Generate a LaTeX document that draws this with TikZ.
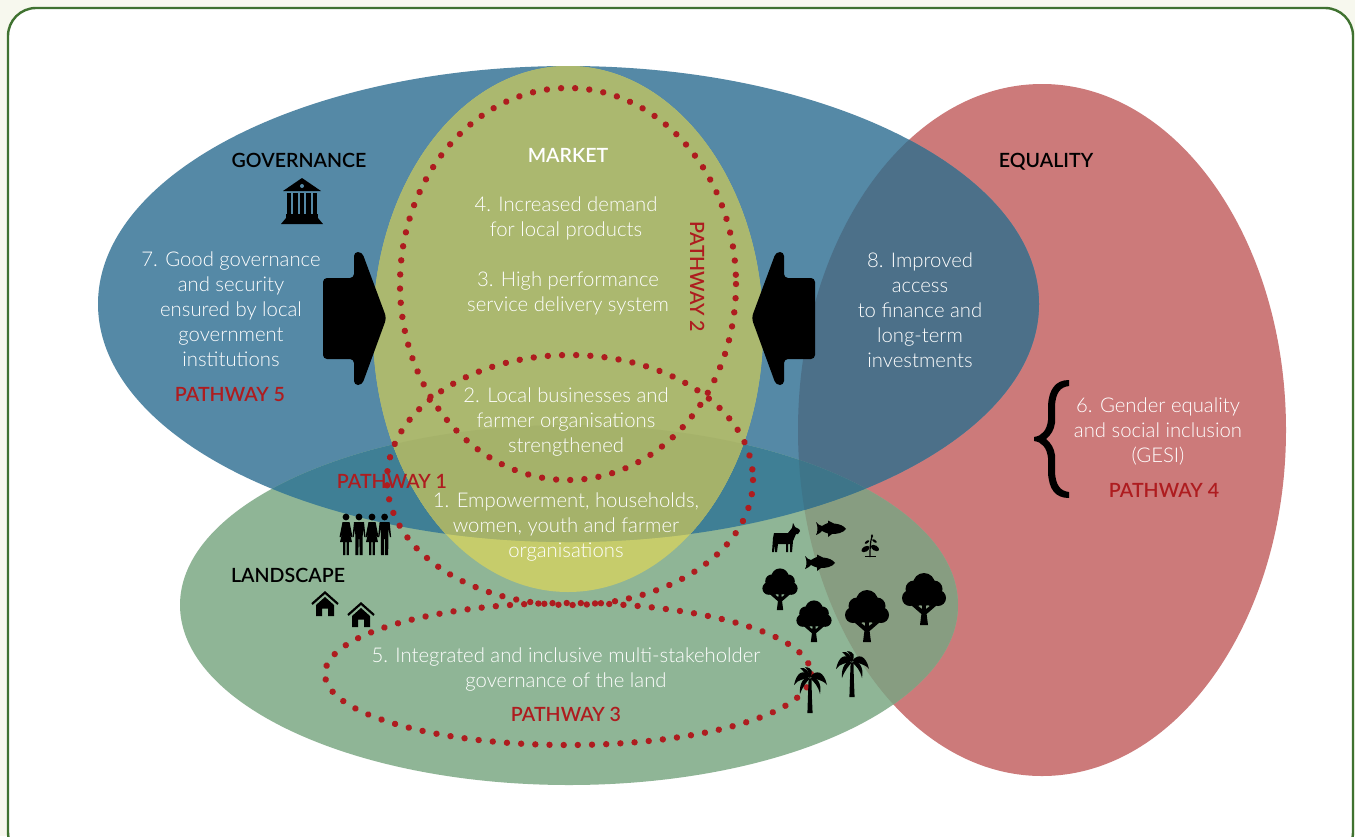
\documentclass[tikz,border=0pt]{standalone}
\usepackage{fontspec}
\setmainfont{Lato}[UprightFont=* Light,BoldFont=* Semibold]
\usetikzlibrary{calc,decorations.markings}
\definecolor{pageBg}{HTML}{F7F8EE}
\definecolor{cardLine}{HTML}{3F7230}
\definecolor{cEq}{HTML}{CC7A7A}
\definecolor{cGov}{HTML}{5589A6}
\definecolor{cLand}{HTML}{8FB596}
\definecolor{cGovEq}{HTML}{4C7089}
\definecolor{cLandEq}{HTML}{879D81}
\definecolor{cGovLand}{HTML}{3F7F95}
\definecolor{cTriple}{HTML}{3E7589}
\definecolor{cMktL}{HTML}{C6CC6B}
\definecolor{cMktG}{HTML}{ABB86F}
\definecolor{cMktGL}{HTML}{A5B26A}
\definecolor{pathRed}{HTML}{AE1C1F}
\def\Gpath{(568.5,304) ellipse [x radius=470.5,y radius=238]}
\def\Mpath{(568,329) ellipse [x radius=195,y radius=263]}
\def\Epath{(1042,430) ellipse [x radius=244,y radius=346]}
\def\Lpath{(569,605) ellipse [x radius=389,y radius=180]}
\tikzset{
  x=1pt,y=-1pt,
  body/.style={font=\fontsize{20.3}{25}\selectfont,text=white,align=center,inner sep=0pt,yshift=-1.5pt},
  head/.style={font=\fontsize{19.6}{22}\bfseries\selectfont,inner sep=0pt,text height=14pt,text depth=0pt},
  way/.style={font=\fontsize{19.6}{22}\bfseries\selectfont,text=pathRed,inner sep=0pt,text height=14pt,text depth=0pt},
  dots/.style={decoration={markings,mark=between positions 0 and 1 step 14.2pt with {\fill[pathRed] (0,0) circle (3.2pt);}},decorate},
  pics/tree/.style={code={
    \fill (-4,0) -- (4,0) -- (2.6,-11) -- (13,-20) -- (11,-23) -- (2,-16) -- (1.5,-25) -- (-1.5,-25) -- (-2,-16) -- (-11,-23) -- (-13,-20) -- (-2.6,-11) -- cycle;
    \fill (0,-41) circle (11) (-10,-36) circle (8.5) (10,-36) circle (8.5) (-14,-27) circle (8) (14,-27) circle (8) (0,-31) circle (12) (-6,-24) circle (5) (6,-24) circle (5);
  }},
  pics/palm/.style={code={
    \fill (-2.6,0) -- (2.6,0) -- (1.8,-18) -- (1.6,-34) -- (-1.4,-34) -- (-2,-18) -- cycle;
    \fill (0,-36) .. controls (-6,-44) and (-13,-42) .. (-16,-28) .. controls (-12,-34) and (-6,-33) .. cycle;
    \fill (0,-35) .. controls (-6,-37) and (-11,-30) .. (-10,-19) .. controls (-7,-27) and (-4,-30) .. cycle;
    \fill (0,-36) .. controls (6,-44) and (14,-42) .. (17,-28) .. controls (12,-34) and (6,-33) .. cycle;
    \fill (0,-35) .. controls (7,-37) and (12,-30) .. (10,-19) .. controls (8,-27) and (5,-30) .. cycle;
    \fill (0,-35) .. controls (-1,-42) and (-4,-46) .. (-10,-45) .. controls (-6,-42) and (-5,-38) .. cycle;
    \fill (0,-35) .. controls (3,-41) and (3,-45) .. (-5,-46) .. controls (-1,-42) and (-2,-39) .. cycle;
  }},
  pics/fish/.style={code={
    \fill (-15,-7) .. controls (-12,-4) .. (-9,-3) .. controls (-6,-5) and (-4,-5.5) .. (-3,-6) -- (-3,-8.5) -- (3,-5.5) .. controls (9,-5) and (13,-3) .. (15,0) .. controls (12,4) and (6,5) .. (1,5) -- (-3,8) -- (-3,4.5) .. controls (-5,4) and (-7,3) .. (-9,2) .. controls (-11,4) .. (-15,6) .. controls (-13,3) and (-13,-3) .. cycle;
  }},
  pics/goat/.style={code={
    \fill (2,10) -- (16,10) -- (20,5) -- (21,0) -- (23,4) -- (27,6) -- (28,8) -- (26,11) -- (24,11) -- (21,18) -- (20,29) -- (18,29) -- (18,21) -- (16,21) -- (16,29) -- (14,29) -- (14,21) -- (6,21) -- (5,29) -- (3,29) -- (3,22) -- (2,29) -- (0,29) -- (1,15) -- cycle;
  }},
  pics/sprout/.style={code={
    \fill (-5.5,-1) rectangle (5.5,0);
    \draw[line width=1.2pt] (0,0) .. controls (0,-8) and (0,-14) .. (2,-21);
    \fill[rotate around={30:(-4.5,-8)}] (-4.5,-8) ellipse [x radius=4.5,y radius=2.6];
    \fill[rotate around={-30:(5,-9)}] (5,-9) ellipse [x radius=4.5,y radius=2.6];
    \fill[rotate around={35:(-3,-15)}] (-3,-15) ellipse [x radius=2.6,y radius=1.2];
    \fill[rotate around={-35:(4.5,-16)}] (4.5,-16) ellipse [x radius=2.6,y radius=1.2];
    \fill (2,-21) ellipse [x radius=1.2,y radius=1.8];
  }},
  pics/man/.style={code={
    \fill (0,0) circle (3.4);
    \fill (-5,5) -- (5,5) -- (6.5,20) -- (5.3,20) -- (3.8,11) -- (3.6,38) -- (0.6,38) -- (0.4,22) -- (-0.4,22) -- (-0.6,38) -- (-3.6,38) -- (-3.8,11) -- (-5.3,20) -- (-6.5,20) -- cycle;
  }},
  pics/woman/.style={code={
    \fill (0,0) circle (3.4);
    \fill (-3.5,5) -- (3.5,5) -- (6.5,20) -- (5.3,20) -- (3,12) -- (6,25) -- (3,25) -- (2.8,38) -- (0.6,38) -- (0.6,25) -- (-0.6,25) -- (-0.6,38) -- (-2.8,38) -- (-3,25) -- (-6,25) -- (-3,12) -- (-5.3,20) -- (-6.5,20) -- cycle;
  }},
  pics/house/.style={code={
    \draw[line width=2.2pt,miter limit=10] (-13,12) -- (0,0.5) -- (13,12);
    \fill (0,5) -- (9,13) -- (9,24) -- (3,24) -- (3,16.5) -- (-3,16.5) -- (-3,24) -- (-9,24) -- (-9,13) -- cycle;
  }},
  pics/bank/.style={code={
    \fill (0,0) -- (19,13) -- (-19,13) -- cycle;
    \fill[cGov] (0,8) circle (2);
    \foreach \cx in {-13,-6.5,0,6.5,13}{\fill (\cx-2.3,15) rectangle (\cx+2.3,36);}
    \fill (-16,36) rectangle (16,40);
    \fill (-16,40) -- (16,40) -- (21,46) -- (-21,46) -- cycle;
  }},
}
\begin{document}
\begin{tikzpicture}
\useasboundingbox (0,0) rectangle (1355,836);
\fill[pageBg] (0,0) rectangle (1355,836);
\begin{scope}
\clip (0,0) rectangle (1355,836);
\draw[cardLine,line width=2.4pt,fill=white,rounded corners=28pt] (8,8) rectangle (1353,860);
\end{scope}
% base ellipses
\fill[cEq] \Epath;
\fill[cGov] \Gpath;
\fill[cLand] \Lpath;
% overlaps
\begin{scope}\clip \Gpath; \fill[cGovEq] \Epath;\end{scope}
\begin{scope}\clip \Lpath; \fill[cLandEq] \Epath;\end{scope}
\begin{scope}\clip \Lpath; \fill[cGovLand] \Gpath;\end{scope}
\begin{scope}\clip \Lpath; \clip \Gpath; \fill[cTriple] \Epath;\end{scope}
\fill[cMktL] \Mpath;
\begin{scope}\clip \Gpath; \fill[cMktG] \Mpath;\end{scope}
\begin{scope}\clip \Gpath; \clip \Lpath; \fill[cMktGL] \Mpath;\end{scope}
% dotted loops
\path[dots] (568,284) ellipse [x radius=168,y radius=196];
\path[dots] (570,480) ellipse [x radius=183,y radius=125];
\path[dots] (568,674) ellipse [x radius=243,y radius=71];
% arrows
\fill[rounded corners=4pt] (323,278) -- (354,278) -- (354,252) -- (362,252) -- (386.5,318) -- (362,385) -- (354,385) -- (354,359) -- (323,359) -- cycle;
\fill[rounded corners=4pt] (815,278) -- (784,278) -- (784,252) -- (776,252) -- (751.5,318) -- (776,385) -- (784,385) -- (784,359) -- (815,359) -- cycle;
% brace
\fill (1069,380) .. controls (1055,380) and (1049,390) .. (1048,405) -- (1048,420) .. controls (1047,430) and (1042,436) .. (1034,437) -- (1034,441) .. controls (1042,442) and (1047,448) .. (1048,458) -- (1048,473) .. controls (1049,489) and (1055,498) .. (1069,498) -- (1069,492) .. controls (1060,491) and (1056,485) .. (1055,473) -- (1055,455) .. controls (1054,448) and (1051,443) .. (1046,439) .. controls (1051,435) and (1054,430) .. (1055,423) -- (1055,405) .. controls (1056,393) and (1060,387) .. (1069,386) -- cycle;
% icons
\pic at (302,178) {bank};
\pic at (346,517) {woman};
\pic at (359,517) {man};
\pic at (372,517) {woman};
\pic at (384.6,517) {man};
\pic at (325,592) {house};
\pic at (361,603) {house};
\pic at (772,523) {goat};
\pic at (831,529) {fish};
\pic at (820,563) {fish};
\pic at (870,557) {sprout};
\pic[scale=.8] at (780,610) {tree};
\pic[scale=.8] at (814,642) {tree};
\pic at (867,642) {tree};
\pic at (924,625) {tree};
\pic at (810,713) {palm};
\pic at (852,697) {palm};
% labels
\node[head] (tGov) at (299,160) {GOVERNANCE};
\node[head,text=white] (tMkt) at (568,155) {MARKET};
\node[head] (tEq) at (1046,160) {EQUALITY};
\node[head] (tLand) at (288,575) {LANDSCAPE};
\node[body] (t7) at (231,308) {7. Good governance\\and security\\ensured by local\\government\\institutions};
\node[way] (p5) at (230,394) {PATHWAY 5};
\node[body] (t4) at (566,217) {4. Increased demand\\for local products};
\node[body] (t3) at (568,292) {3. High performance\\service delivery system};
\node[way,rotate=-90] (p2) at (697,277) {PATHWAY 2};
\node[body] (t2) at (566,420) {2. Local businesses and\\farmer organisations\\strengthened};
\node[way] (p1) at (392,481) {PATHWAY 1};
\node[body] (t1) at (566,525) {1. Empowerment, households,\\women, youth and farmer\\organisations};
\node[body] (t5) at (566,668) {5. Integrated and inclusive multi-stakeholder\\governance of the land};
\node[way] (p3) at (566,714) {PATHWAY 3};
\node[body] (t8) at (920,309) {8. Improved\\access\\to finance and\\long-term\\investments};
\node[body] (t6) at (1158,430) {6. Gender equality\\and social inclusion\\(GESI)};
\node[way] (p4) at (1164,490) {PATHWAY 4};
\end{tikzpicture}
\end{document}
